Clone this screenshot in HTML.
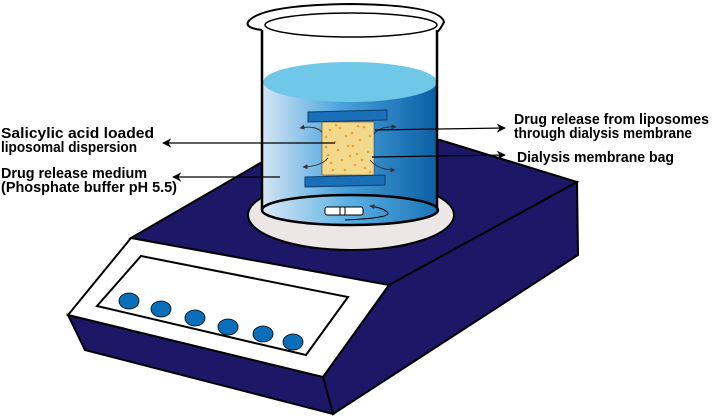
<!DOCTYPE html>
<html><head><meta charset="utf-8"><style>html,body{margin:0;padding:0;background:#fff}svg{display:block}</style></head>
<body>
<svg width="714" height="416" viewBox="0 0 714 416" xmlns="http://www.w3.org/2000/svg" font-family="Liberation Sans, sans-serif" font-weight="bold" font-size="14.5">
<defs>
<linearGradient id="w" x1="0" x2="1" y1="0" y2="0">
<stop offset="0" stop-color="#d6e6f6"/><stop offset="0.45" stop-color="#4aa3dc"/><stop offset="1" stop-color="#0b5fa5"/>
</linearGradient>
<linearGradient id="wb" x1="0" x2="1"><stop offset="0" stop-color="#dbe9f7"/><stop offset="0.5" stop-color="#5ab0e2"/><stop offset="1" stop-color="#1a73b8"/></linearGradient>
<marker id="ah" viewBox="0 0 10 10" refX="9" refY="5" markerWidth="7" markerHeight="7" orient="auto"><path d="M0,0 L10,5 L0,10 L3,5z" fill="#000"/></marker>
<marker id="sa" viewBox="0 0 10 10" refX="9" refY="5" markerWidth="5" markerHeight="5" orient="auto"><path d="M0,0 L10,5 L0,10z" fill="#333"/></marker>
</defs>
<polygon points="131,238 300,140 440,140 577,182 389,285" fill="#1c1766" stroke="#000" stroke-width="2"/>
<polygon points="389,285 577,182 578,255 333,414 323,377" fill="#1c1766" stroke="#000" stroke-width="2"/>
<polygon points="68,315 323,377 333,414 85,350" fill="#1c1766" stroke="#000" stroke-width="2"/>
<polygon points="131,238 389,285 323,377 68,315" fill="#fff" stroke="#000" stroke-width="2"/>
<polygon points="141,256 348,297 306,355 97,306" fill="#fff" stroke="#000" stroke-width="2"/>
<g fill="#0a6fba" stroke="#000" stroke-width="0.8">
<ellipse cx="129" cy="301" rx="10" ry="8"/><ellipse cx="161" cy="309" rx="10" ry="8"/><ellipse cx="195" cy="318" rx="10" ry="8"/><ellipse cx="228" cy="327" rx="10" ry="8"/><ellipse cx="263" cy="334" rx="10" ry="8"/><ellipse cx="293" cy="342" rx="10" ry="8"/>
</g>
<ellipse cx="351" cy="215" rx="103" ry="35" fill="#ece6e6" stroke="#000" stroke-width="2"/>
<path d="M262,82 L262,210 A88,15 0 0 0 437,210 L437,82 Z" fill="url(#w)"/>
<ellipse cx="350" cy="210" rx="88" ry="15" fill="url(#wb)" stroke="#000" stroke-width="2.5"/>
<ellipse cx="350" cy="82" rx="87" ry="20" fill="#6fc8e8"/>
<path d="M262,30 L262,210 M437,30 L437,210" stroke="#000" stroke-width="2.5" fill="none"/>
<path d="M262,30 Q245,28 248,22 Q260,5 350,4 Q440,5 444,22 Q440,30 437,32" fill="none" stroke="#000" stroke-width="2"/>
<ellipse cx="351" cy="25" rx="86" ry="12" fill="none" stroke="#000" stroke-width="1.5"/>
<rect x="322" y="122" width="52" height="53" fill="#f3d98c" stroke="#333" stroke-width="0.5"/>
<g fill="#f0a030">
<circle cx="330" cy="130" r="1.3"/><circle cx="340" cy="128" r="1.3"/><circle cx="352" cy="133" r="1.3"/><circle cx="364" cy="127" r="1.3"/><circle cx="335" cy="142" r="1.3"/><circle cx="348" cy="146" r="1.3"/><circle cx="360" cy="140" r="1.3"/><circle cx="368" cy="152" r="1.3"/><circle cx="328" cy="155" r="1.3"/><circle cx="342" cy="160" r="1.3"/><circle cx="355" cy="165" r="1.3"/><circle cx="333" cy="170" r="1.3"/><circle cx="365" cy="168" r="1.3"/><circle cx="346" cy="136" r="1.3"/><circle cx="357" cy="154" r="1.3"/>
<circle cx="326" cy="137" r="1.3"/><circle cx="338" cy="150" r="1.3"/><circle cx="350" cy="156" r="1.3"/><circle cx="362" cy="160" r="1.3"/><circle cx="370" cy="136" r="1.3"/><circle cx="331" cy="163" r="1.3"/><circle cx="345" cy="170" r="1.3"/><circle cx="358" cy="126" r="1.3"/><circle cx="370" cy="172" r="1.3"/><circle cx="336" cy="125" r="1.3"/><circle cx="353" cy="146" r="1.3"/><circle cx="326" cy="147" r="1.3"/>
</g>
<polygon points="308,112 387,110 387,120 308,122" fill="#1a6fb8" stroke="#0a3d70"/>
<polygon points="305,177 385,175 385,185 305,187" fill="#1a6fb8" stroke="#0a3d70"/>
<g fill="none" stroke="#333" stroke-width="1" marker-end="url(#sa)">
<path d="M322,132 Q315,125 300,128"/><path d="M374,134 Q380,126 396,127"/><path d="M328,158 Q322,166 303,167"/><path d="M370,160 Q378,170 395,170"/>
</g>
<rect x="325" y="207" width="38" height="8" rx="2" fill="#fff" stroke="#000"/>
<line x1="340" y1="207" x2="340" y2="215" stroke="#000"/><line x1="345" y1="207" x2="345" y2="215" stroke="#000"/>
<path d="M345,220 Q390,218 388,213 Q384,208 370,206" fill="none" stroke="#000" stroke-width="1" marker-end="url(#sa)"/>
<g stroke="#000" stroke-width="1.3" fill="none" marker-end="url(#ah)">
<line x1="335" y1="143" x2="163" y2="143"/>
<line x1="280" y1="177" x2="173" y2="177"/>
<line x1="375" y1="130" x2="505" y2="128"/>
<line x1="372" y1="157" x2="505" y2="155"/>
</g>
<text x="1" y="138" textLength="153" lengthAdjust="spacingAndGlyphs">Salicylic  acid  loaded</text>
<text x="1" y="152" textLength="136" lengthAdjust="spacingAndGlyphs">liposomal dispersion</text>
<text x="1" y="178" textLength="146" lengthAdjust="spacingAndGlyphs">Drug release medium</text>
<text x="1" y="192" textLength="176" lengthAdjust="spacingAndGlyphs">(Phosphate buffer pH 5.5)</text>
<text x="514" y="124" textLength="195" lengthAdjust="spacingAndGlyphs">Drug release from liposomes</text>
<text x="514" y="138" textLength="178" lengthAdjust="spacingAndGlyphs">through dialysis membrane</text>
<text x="517" y="162" textLength="157" lengthAdjust="spacingAndGlyphs">Dialysis membrane bag</text>
</svg>
</body></html>
